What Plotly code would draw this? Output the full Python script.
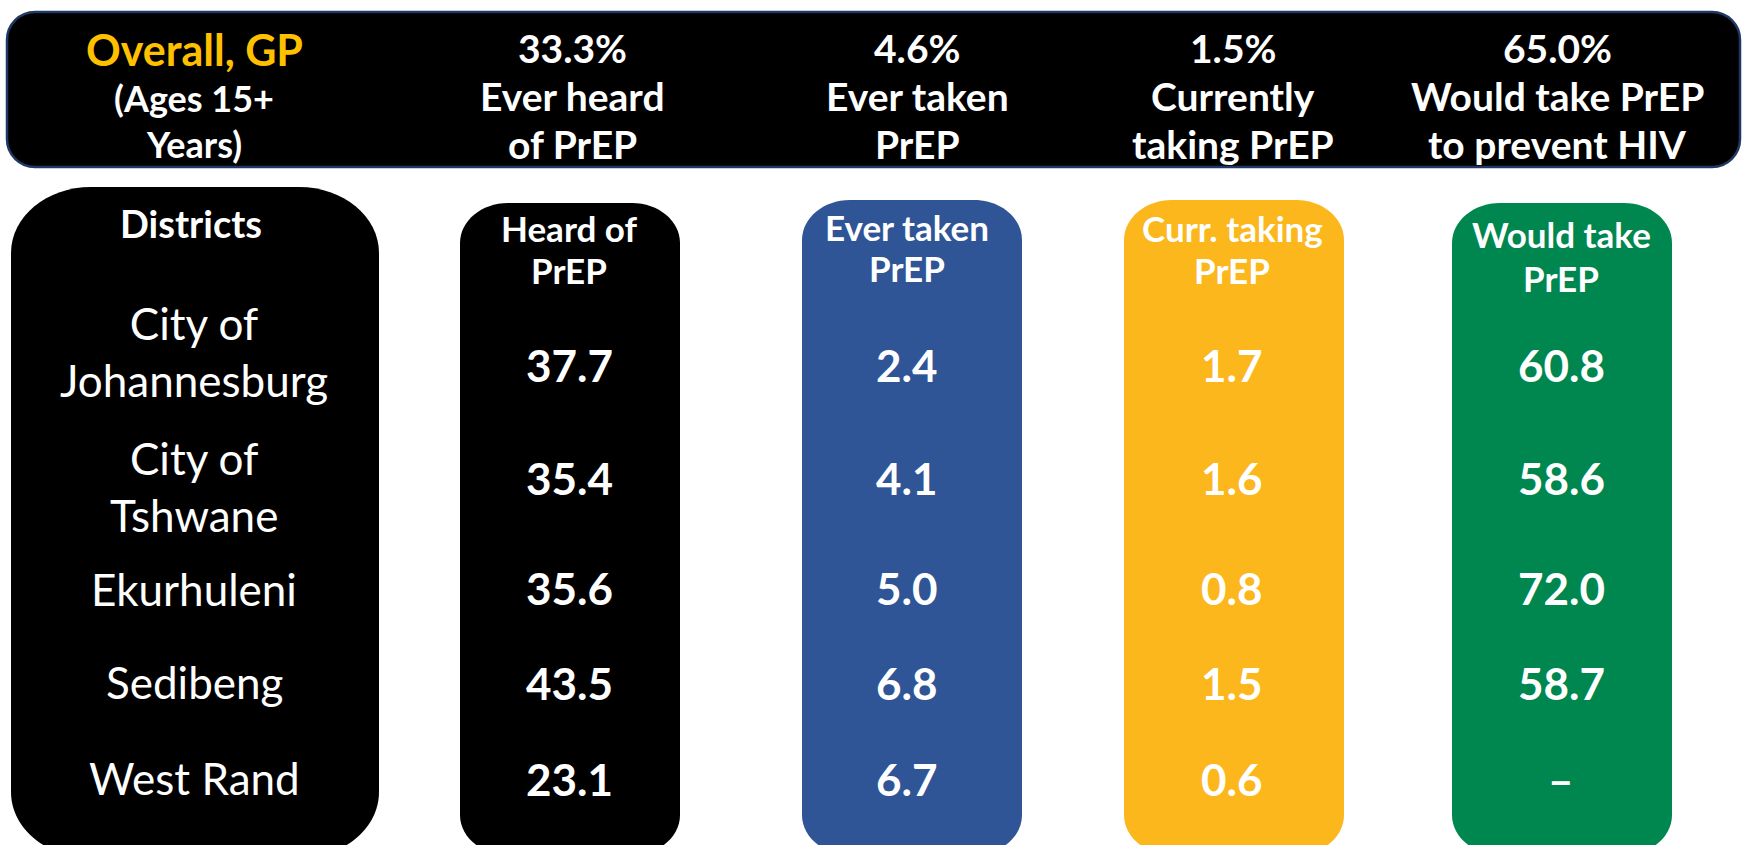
import plotly.graph_objects as go

# ---------------- data ----------------
overall_title = "Overall, GP"
overall_sub = ["(Ages 15+", "Years)"]
overall_values = [33.3, 4.6, 1.5, 65.0]
overall_labels = [["Ever heard", "of PrEP"], ["Ever taken", "PrEP"],
                  ["Currently", "taking PrEP"], ["Would take PrEP", "to prevent HIV"]]
column_headers = [["Heard of", "PrEP"], ["Ever taken", "PrEP"],
                  ["Curr. taking", "PrEP"], ["Would take", "PrEP"]]
districts_header = "Districts"
districts = ["City of<br>Johannesburg", "City of<br>Tshwane", "Ekurhuleni", "Sedibeng", "West Rand"]
heard = [37.7, 35.4, 35.6, 43.5, 23.1]
ever_taken = [2.4, 4.1, 5.0, 6.8, 6.7]
curr_taking = [1.7, 1.6, 0.8, 1.5, 0.6]
would_take = [60.8, 58.6, 72.0, 58.7, None]
series = [heard, ever_taken, curr_taking, would_take]

# ---------------- layout / style ----------------
W, H = 1742, 845
FONT = "Lato, 'Open Sans', sans-serif"
col_colors = ["#000000", "#2F5597", "#FBB71B", "#00874F"]
col_boxes = [(460, 203), (802, 200), (1124, 200), (1452, 203)]  # left, top
col_w = 220
col_value_x = [569, 907, 1232, 1561]
col_header_y = [(228, 270), (227, 268), (228, 270), (234, 278)]
banner_x = [572, 917, 1233, 1557]
row_value_y = [365, 478, 588, 683, 779]
row_district_y = [351, 486, 589, 682, 778]

K = 0.5523


def rrect(x0, y0, x1, y1, rx, ry, rxb=None, ryb=None):
    rxb = rx if rxb is None else rxb
    ryb = ry if ryb is None else ryb
    p = [f"M {x0},{y0+ry}",
         f"C {x0},{y0+ry*(1-K)} {x0+rx*(1-K)},{y0} {x0+rx},{y0}",
         f"L {x1-rx},{y0}",
         f"C {x1-rx*(1-K)},{y0} {x1},{y0+ry*(1-K)} {x1},{y0+ry}",
         f"L {x1},{y1-ryb}",
         f"C {x1},{y1-ryb*(1-K)} {x1-rxb*(1-K)},{y1} {x1-rxb},{y1}",
         f"L {x0+rxb},{y1}",
         f"C {x0+rxb*(1-K)},{y1} {x0},{y1-ryb*(1-K)} {x0},{y1-ryb}",
         "Z"]
    return " ".join(p)


shapes = []
# top banner
shapes.append(dict(type="path", xref="x", yref="y",
                   path=rrect(7, 12, 1740, 167, 28, 28),
                   fillcolor="#000000", line=dict(color="#1F3864", width=2.5)))
# districts box
shapes.append(dict(type="path", xref="x", yref="y",
                   path=rrect(11, 187, 379, 858, 80, 66),
                   fillcolor="#000000", line=dict(width=0)))
# column boxes
for (x0, y0), c in zip(col_boxes, col_colors):
    shapes.append(dict(type="path", xref="x", yref="y",
                       path=rrect(x0, y0, x0 + col_w, 855, 48, 40),
                       fillcolor=c, line=dict(width=0)))

ann = []


def text(x, y, s, size, color="white", bold=True):
    ann.append(dict(x=x, y=y, xref="x", yref="y", text=s, showarrow=False,
                    xanchor="center", yanchor="middle",
                    font=dict(family=FONT, size=size, color=color,
                              weight="bold" if bold else "normal")))


# banner texts
text(194, 49, overall_title, 43, color="#FFC000")
text(194, 98, overall_sub[0], 36)
text(194, 144, overall_sub[1], 36)
for x, v, lab in zip(banner_x, overall_values, overall_labels):
    text(x, 48, f"{v:.1f}%", 39)
    text(x, 96, lab[0], 39)
    text(x, 144, lab[1], 39)

# headers
text(191, 223, districts_header, 38)
for x, hd, (y1, y2) in zip(col_value_x, column_headers, col_header_y):
    text(x, y1, hd[0], 35)
    text(x, y2, hd[1], 35)

# district names
for y, d in zip(row_district_y, districts):
    text(194, y, d, 44, bold=False)

# values
for x, vals in zip(col_value_x, series):
    for y, v in zip(row_value_y, vals):
        text(x, y, "\u2013" if v is None else f"{v:.1f}", 44)

fig = go.Figure()
fig.add_trace(go.Scatter(x=[0, W], y=[0, H], mode="markers",
                         marker=dict(opacity=0), hoverinfo="skip", showlegend=False))
fig.update_layout(
    width=W, height=H, margin=dict(l=0, r=0, t=0, b=0),
    paper_bgcolor="white", plot_bgcolor="white",
    xaxis=dict(range=[0, W], visible=False, fixedrange=True),
    yaxis=dict(range=[H, 0], visible=False, fixedrange=True),
    shapes=shapes, annotations=ann, showlegend=False,
)
fig.write_html("out.html", config={"displayModeBar": False},
               post_script="document.body.style.margin='0';document.body.style.overflow='hidden';")
